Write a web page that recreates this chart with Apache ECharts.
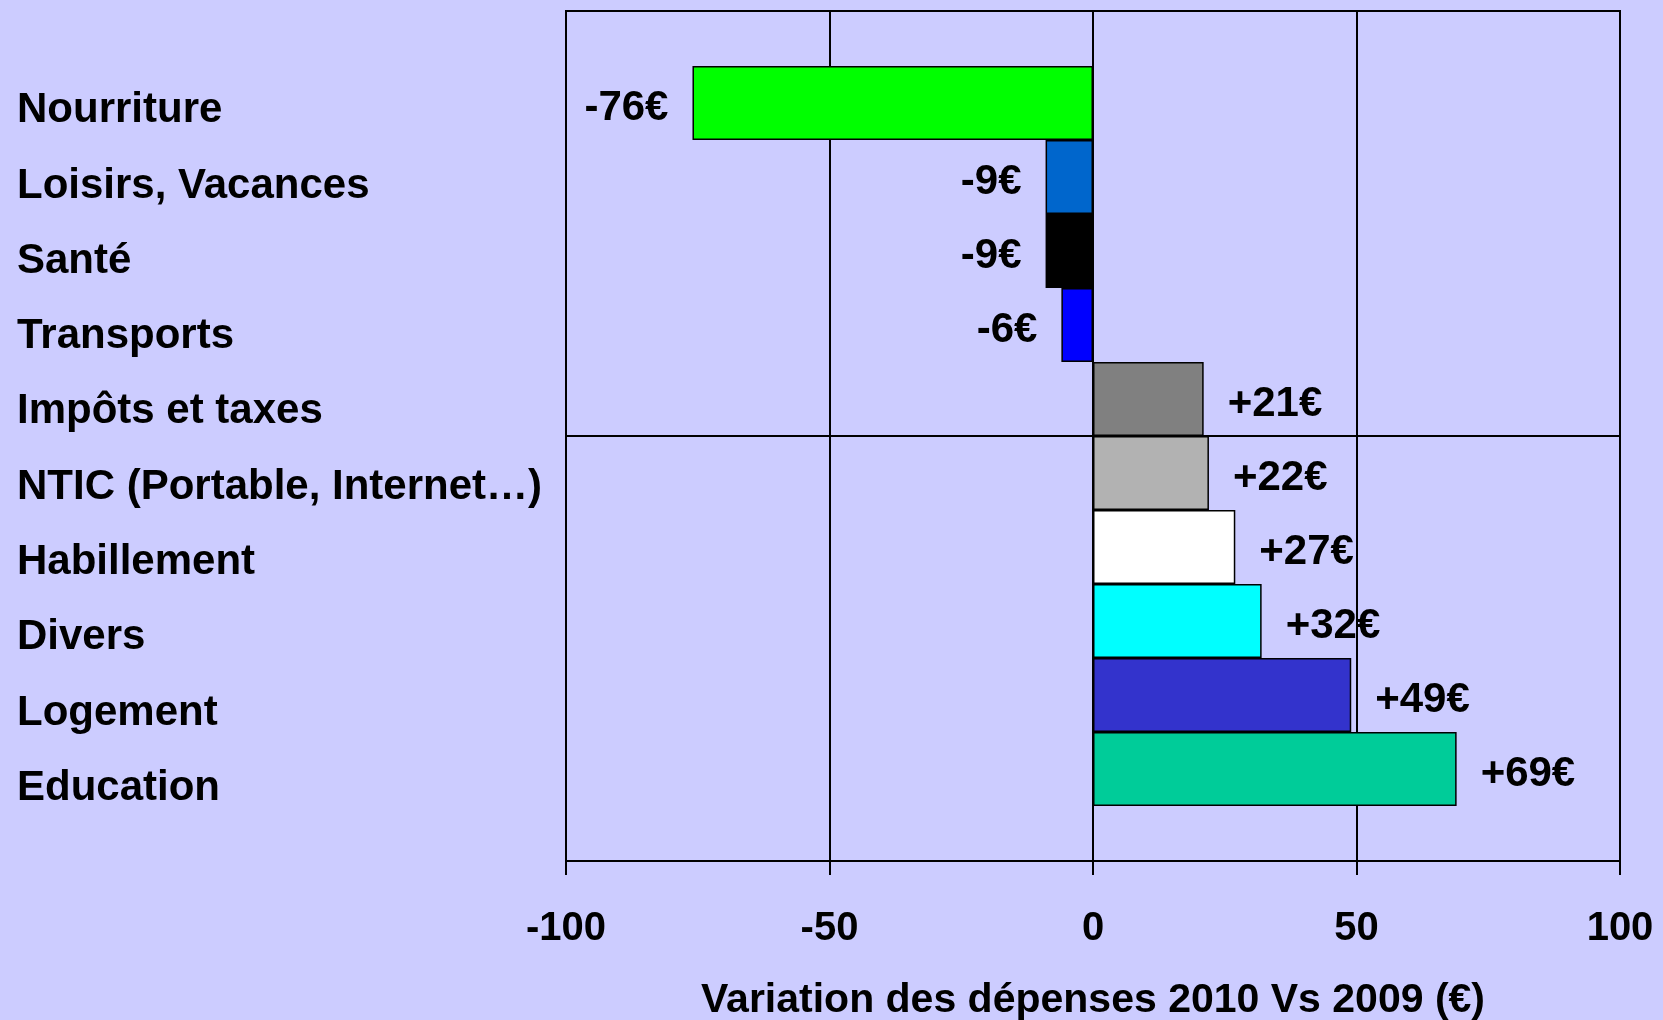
<!DOCTYPE html>
<html>
<head>
<meta charset="utf-8">
<script src="https://cdn.jsdelivr.net/npm/echarts@6/dist/echarts.min.js"></script>
<style>
  html, body { margin: 0; padding: 0; background: #ccccff; }
  #chart { width: 1663px; height: 1020px; }
</style>
</head>
<body>
<div id="chart"></div>
<script>
const categories = ['Nourriture', 'Loisirs, Vacances', 'Santé', 'Transports', 'Impôts et taxes',
  'NTIC (Portable, Internet…)', 'Habillement', 'Divers', 'Logement', 'Education']
const variations = [-76, -9, -9, -6, 21, 22, 27, 32, 49, 69]
const barColors = ['#00ff00', '#0066cc', '#000000', '#0000ff', '#808080',
  '#b2b2b2', '#ffffff', '#00ffff', '#3333cc', '#00cc99']
const xTicks = { min: -100, max: 100, interval: 50 }
const axisTitle = 'Variation des dépenses 2010 Vs 2009 (€)'

const font = 'Liberation Sans, Arial, sans-serif'
const chart = echarts.init(document.getElementById('chart'))

const barData = variations.map((v, i) => ({
  value: v,
  itemStyle: { color: barColors[i] },
  label: { position: v < 0 ? 'left' : 'right' }
}))

chart.setOption({
  backgroundColor: '#ccccff',
  animation: false,
  grid: [
    // cadre extérieur + quadrillage
    { left: 566, top: 11, width: 1054, height: 850, outerBoundsMode: 'none',
      show: true, borderColor: '#000', borderWidth: 2, backgroundColor: 'transparent' },
    // zone des barres
    { left: 566, top: 66, width: 1054, height: 740, outerBoundsMode: 'none' },
    // libellés des catégories (pas un peu plus grand que les barres)
    { left: 566, top: 73, width: 1054, height: 753, outerBoundsMode: 'none' }
  ],
  xAxis: [
    {
      gridIndex: 0,
      type: 'value',
      min: xTicks.min, max: xTicks.max, interval: xTicks.interval,
      name: axisTitle,
      nameLocation: 'middle',
      nameGap: 119,
      nameTextStyle: { color: '#000', fontFamily: font, fontWeight: 'bold', fontSize: 41 },
      axisLine: { show: true, lineStyle: { color: '#000', width: 2 } },
      axisTick: { show: true, length: 14, lineStyle: { color: '#000', width: 2 } },
      axisLabel: { color: '#000', fontFamily: font, fontWeight: 'bold', fontSize: 40, margin: 48 },
      splitLine: { show: true, lineStyle: { color: '#000', width: 2 } }
    },
    { gridIndex: 1, type: 'value', min: xTicks.min, max: xTicks.max, show: false },
    { gridIndex: 2, type: 'value', min: xTicks.min, max: xTicks.max, show: false }
  ],
  yAxis: [
    {
      gridIndex: 0,
      type: 'value',
      min: 0, max: 2, interval: 1,
      axisLine: { show: false },
      axisTick: { show: false },
      axisLabel: { show: false },
      splitLine: { show: true, lineStyle: { color: '#000', width: 2 } }
    },
    {
      gridIndex: 1,
      type: 'category',
      inverse: true,
      data: categories,
      axisLine: { show: false },
      axisTick: { show: false },
      splitLine: { show: false },
      axisLabel: { show: false }
    },
    {
      gridIndex: 2,
      type: 'category',
      inverse: true,
      data: categories,
      axisLine: { show: false },
      axisTick: { show: false },
      splitLine: { show: false },
      axisLabel: {
        align: 'left',
        margin: 549,
        color: '#000',
        fontFamily: font,
        fontWeight: 'bold',
        fontSize: 42
      }
    }
  ],
  series: [
    {
      type: 'bar',
      xAxisIndex: 1,
      yAxisIndex: 1,
      barCategoryGap: 0,
      barWidth: '100%',
      data: barData,
      itemStyle: { borderColor: '#000', borderWidth: 1.5 },
      label: {
        show: true,
        distance: 24,
        offset: [0, 5],
        color: '#000',
        fontFamily: font,
        fontWeight: 'bold',
        fontSize: 42,
        formatter: p => (p.value > 0 ? '+' : '') + p.value + '€'
      }
    }
  ]
})
</script>
</body>
</html>
